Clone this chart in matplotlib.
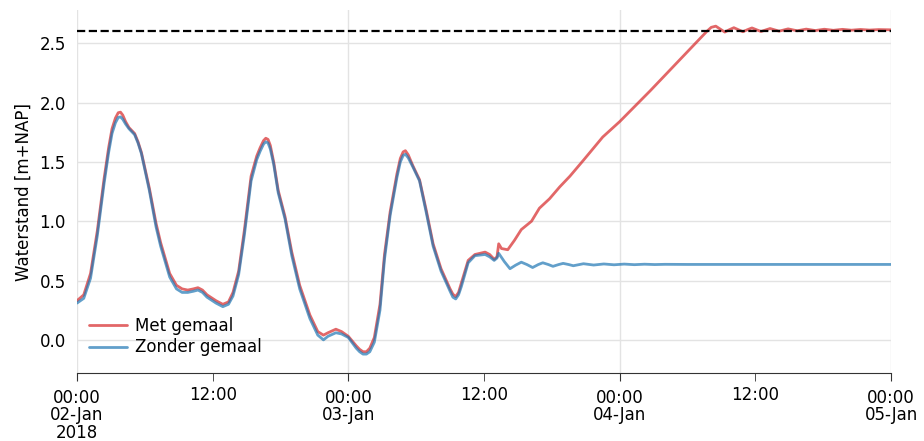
import matplotlib
matplotlib.use("Agg")
import matplotlib.pyplot as plt
import pandas as pd

# Water level series, hours since 2018-01-02 00:00
start = pd.Timestamp("2018-01-02 00:00")

hours_met = [
    0.0, 0.6, 1.2, 1.8, 2.4, 2.8, 3.1, 3.4, 3.65, 3.85, 4.05, 4.3, 4.6, 5.1,
    5.4, 5.7, 6.4, 7.0, 7.4, 8.2, 8.8, 9.3, 9.8, 10.3, 10.7, 11.1, 11.5, 12.3,
    12.9, 13.4, 13.8, 14.3, 14.8, 15.4, 15.9, 16.2, 16.5, 16.7, 16.9, 17.1,
    17.4, 17.8, 18.4, 19.0, 19.7, 20.6, 21.3, 21.8, 22.2, 22.9, 23.4, 24.0,
    24.7, 25.0, 25.3, 25.6, 25.9, 26.3, 26.8, 27.2, 27.7, 28.3, 28.6, 28.85,
    29.05, 29.3, 29.7, 30.3, 30.9, 31.5, 32.2, 33.0, 33.25, 33.5, 33.75, 34.0,
    34.6, 35.2, 36.1, 36.5, 36.9, 37.15, 37.3, 37.55, 38.1, 38.7, 39.3, 40.2,
    40.9, 41.8, 42.7, 43.6, 44.8, 46.5, 48.0, 50.7, 53.0, 55.0, 55.7, 56.1,
    56.5, 56.9, 57.3, 57.7, 58.1, 58.5, 58.9, 59.3, 59.7, 60.1, 60.5, 61.3,
    62.1, 62.9, 63.7, 64.5, 65.3, 66.1, 66.9, 67.7, 68.5, 69.3, 70.1, 70.9,
    72.0,
]
level_met = [
    0.33, 0.38, 0.56, 0.92, 1.36, 1.62, 1.78, 1.87, 1.915, 1.92, 1.895, 1.84,
    1.79, 1.74, 1.67, 1.58, 1.28, 0.98, 0.82, 0.56, 0.46, 0.43, 0.42, 0.43,
    0.44, 0.42, 0.38, 0.33, 0.30, 0.32, 0.40, 0.58, 0.92, 1.38, 1.55, 1.62,
    1.68, 1.70, 1.69, 1.64, 1.50, 1.26, 1.04, 0.74, 0.46, 0.21, 0.07, 0.04,
    0.06, 0.09, 0.07, 0.03, -0.05, -0.08, -0.10, -0.10, -0.07, 0.02, 0.30,
    0.72, 1.08, 1.40, 1.53, 1.585, 1.595, 1.56, 1.47, 1.35, 1.09, 0.81, 0.60,
    0.43, 0.385, 0.365, 0.40, 0.48, 0.67, 0.72, 0.74, 0.72, 0.68, 0.70, 0.81,
    0.77, 0.76, 0.84, 0.93, 1.00, 1.11, 1.19, 1.29, 1.38, 1.515, 1.71, 1.84,
    2.10, 2.33, 2.53, 2.60, 2.635, 2.645, 2.62, 2.595, 2.615, 2.632, 2.615,
    2.598, 2.615, 2.63, 2.615, 2.60, 2.625, 2.603, 2.622, 2.606, 2.62, 2.608,
    2.619, 2.61, 2.618, 2.611, 2.617, 2.612, 2.616, 2.614,
]

hours_zonder = [
    0.0, 0.6, 1.2, 1.8, 2.4, 2.8, 3.1, 3.4, 3.65, 3.85, 4.05, 4.3, 4.6, 5.1,
    5.4, 5.7, 6.4, 7.0, 7.4, 8.2, 8.8, 9.3, 9.8, 10.3, 10.7, 11.1, 11.5, 12.3,
    12.9, 13.4, 13.8, 14.3, 14.8, 15.4, 15.9, 16.2, 16.5, 16.7, 16.9, 17.1,
    17.4, 17.8, 18.4, 19.0, 19.7, 20.6, 21.3, 21.8, 22.2, 22.9, 23.4, 24.0,
    24.7, 25.0, 25.3, 25.6, 25.9, 26.3, 26.8, 27.2, 27.7, 28.3, 28.6, 28.85,
    29.05, 29.3, 29.7, 30.3, 30.9, 31.5, 32.2, 33.0, 33.25, 33.5, 33.75, 34.0,
    34.6, 35.2, 36.1, 36.5, 36.9, 37.15, 37.3, 37.8, 38.3, 38.8, 39.3, 39.8,
    40.3, 40.8, 41.2, 41.7, 42.1, 42.6, 43.0, 43.5, 43.9, 44.8, 45.7, 46.6,
    47.5, 48.4, 49.3, 50.2, 51.1, 52.0, 54.0, 72.0,
]
level_zonder = [
    0.31, 0.35, 0.52, 0.88, 1.32, 1.58, 1.74, 1.83, 1.875, 1.88, 1.86, 1.82,
    1.78, 1.73, 1.66, 1.57, 1.26, 0.95, 0.79, 0.53, 0.43, 0.40, 0.40, 0.41,
    0.42, 0.40, 0.36, 0.31, 0.28, 0.30, 0.37, 0.55, 0.88, 1.34, 1.52, 1.59,
    1.65, 1.67, 1.66, 1.61, 1.48, 1.24, 1.02, 0.71, 0.43, 0.18, 0.04, 0.00,
    0.03, 0.06, 0.05, 0.02, -0.07, -0.10, -0.12, -0.12, -0.10, -0.02, 0.25,
    0.68, 1.05, 1.37, 1.50, 1.555, 1.565, 1.535, 1.46, 1.34, 1.07, 0.79, 0.58,
    0.41, 0.36, 0.345, 0.38, 0.45, 0.65, 0.71, 0.72, 0.70, 0.67, 0.69, 0.73,
    0.66, 0.60, 0.63, 0.655, 0.635, 0.61, 0.635, 0.65, 0.635, 0.62, 0.635,
    0.645, 0.635, 0.625, 0.642, 0.631, 0.64, 0.633, 0.639, 0.634, 0.638,
    0.635, 0.637, 0.636, 0.636,
]

max_level = 2.6
series_labels = ["Met gemaal", "Zonder gemaal"]

major_ticks = ["2018-01-02", "2018-01-03", "2018-01-04", "2018-01-05"]
major_labels = ["00:00\n02-Jan\n2018", "00:00\n03-Jan", "00:00\n04-Jan", "00:00\n05-Jan"]
minor_ticks = ["2018-01-02 12:00", "2018-01-03 12:00", "2018-01-04 12:00"]
minor_labels = ["12:00", "12:00", "12:00"]
y_ticks = [0.0, 0.5, 1.0, 1.5, 2.0, 2.5]

t_met = start + pd.to_timedelta(hours_met, unit="h")
t_zonder = start + pd.to_timedelta(hours_zonder, unit="h")

plt.rcParams["font.family"] = ["DejaVu Sans"]
plt.rcParams["font.size"] = 12

fig = plt.figure(figsize=(9.24, 4.41), dpi=100)
ax = fig.add_axes([0.0833, 0.154, 0.881, 0.823])

line_style = dict(alpha=0.7, lw=2.0, solid_joinstyle="round", solid_capstyle="round")
ax.plot(t_met, level_met, color="tab:red", label=series_labels[0], **line_style)
ax.plot(t_zonder, level_zonder, color="tab:blue", label=series_labels[1], **line_style)
ax.axhline(max_level, color="black", ls="--", lw=1.6)

ax.set_xlim(pd.Timestamp(major_ticks[0]), pd.Timestamp(major_ticks[-1]))
ax.set_ylim(-0.28, 2.78)

ax.set_xticks(pd.to_datetime(major_ticks), major_labels)
ax.set_xticks(pd.to_datetime(minor_ticks), minor_labels, minor=True)
ax.set_yticks(y_ticks, [f"{v:.1f}" for v in y_ticks])
for lbl in ax.get_xticklabels():
    lbl.set_linespacing(0.95)

ax.grid(True, which="major", color="#e3e3e3", lw=1.0)
ax.set_axisbelow(True)
for side in ("left", "top", "right"):
    ax.spines[side].set_visible(False)
ax.spines["bottom"].set_color("#333333")
ax.tick_params(axis="y", length=0, pad=8)
ax.tick_params(axis="x", which="major", length=6, color="#333333", pad=5.5)
ax.tick_params(axis="x", which="minor", length=6, color="#333333", pad=3.5)

ax.set_ylabel("Waterstand [m+NAP]", labelpad=5)
ax.legend(loc="lower left", bbox_to_anchor=(-0.006, 0.0), frameon=False,
          handlelength=2.3, handletextpad=0.45, labelspacing=0.2, borderaxespad=0.6)

fig.savefig("out.png", dpi=100)
